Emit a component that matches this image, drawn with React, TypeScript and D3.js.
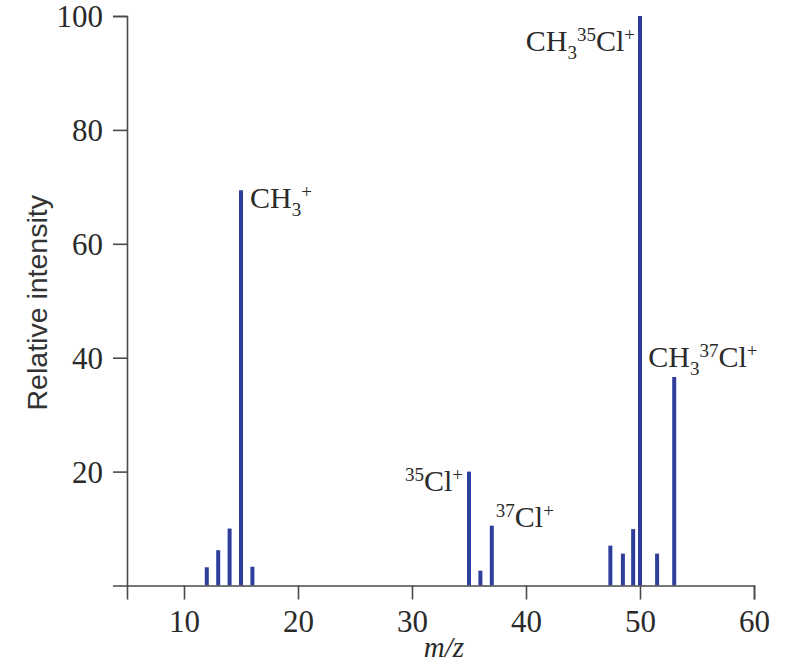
import React, { useEffect, useRef } from 'react';
import * as d3 from 'd3';

// peaks
const mzValues = [12, 13, 14, 15, 16, 35, 36, 37, 47.4, 48.5, 49.4, 50, 51.5, 53];
const intensities = [3.2, 6.2, 10, 69.4, 3.3, 20, 2.6, 10.5, 7.0, 5.6, 9.9, 100, 5.6, 36.6];

const xTicks = [10, 20, 30, 40, 50, 60];
const yTicks = [20, 40, 60, 80, 100];

// ion labels: [text, kind] parts, kind: n = normal, sub, sup
type Part = [string, 'n' | 'sub' | 'sup'];
const labelParts: Part[][] = [
  [['CH', 'n'], ['3', 'sub'], ['+', 'sup']],
  [['35', 'sup'], ['Cl', 'n'], ['+', 'sup']],
  [['37', 'sup'], ['Cl', 'n'], ['+', 'sup']],
  [['CH', 'n'], ['3', 'sub'], ['35', 'sup'], ['Cl', 'n'], ['+', 'sup']],
  [['CH', 'n'], ['3', 'sub'], ['37', 'sup'], ['Cl', 'n'], ['+', 'sup']],
];
const labelMz = [15, 35, 37, 50, 53];

const W = 795;
const H = 663;
const BLUE = '#2f3e9a';
const INK = '#2a2a2a';
const SERIF = '"Liberation Serif", "Times New Roman", serif';
const LABEL_SIZE = 30;
const SMALL_SIZE = 19;

const App: React.FC = () => {
  const svgRef = useRef<SVGSVGElement>(null);

  useEffect(() => {
    if (!svgRef.current) return;
    const svg = d3.select(svgRef.current);
    svg.selectAll('*').remove();

    const x = d3.scaleLinear().domain([5, 60]).range([127, 754]);
    const y = d3.scaleLinear().domain([0, 100]).range([585.5, 16]);

    // bars
    svg.append('g')
      .selectAll('line')
      .data(mzValues)
      .join('line')
      .attr('x1', d => x(d))
      .attr('x2', d => x(d))
      .attr('y1', y(0))
      .attr('y2', (_, i) => y(intensities[i]))
      .attr('stroke', BLUE)
      .attr('stroke-width', 4);

    // axes
    const xAxis = svg.append('g')
      .attr('transform', `translate(0,${y(0)})`)
      .call(d3.axisBottom(x).tickValues(xTicks).tickSizeOuter(0).tickSize(14).tickPadding(10));
    const yAxis = svg.append('g')
      .attr('transform', `translate(${x(5)},0)`)
      .call(d3.axisLeft(y).tickValues(yTicks).tickSizeOuter(0).tickSize(14).tickPadding(10));

    [xAxis, yAxis].forEach(g => {
      g.selectAll('path, line').attr('stroke', '#4a4a4a').attr('stroke-width', 1.6);
      g.selectAll('text')
        .attr('font-family', SERIF)
        .attr('font-size', 31)
        .attr('fill', INK);
    });
    yAxis.selectAll('text').attr('dy', '0.34em');

    // axis titles
    svg.append('text')
      .attr('transform', `translate(47,${y(50) + 2}) rotate(-90)`)
      .attr('text-anchor', 'middle')
      .attr('font-family', '"Liberation Sans", Arial, sans-serif')
      .attr('font-size', 28.5)
      .attr('fill', '#333')
      .text('Relative intensity');

    svg.append('text')
      .attr('x', 444)
      .attr('y', 657)
      .attr('text-anchor', 'middle')
      .attr('font-family', SERIF)
      .attr('font-style', 'italic')
      .attr('font-size', 29)
      .attr('fill', INK)
      .text('m/z');

    // ion labels
    const peakOf = (mz: number) => intensities[mzValues.indexOf(mz)];
    const anchors: { dx: number; dy: number; anchor: string }[] = [
      { dx: 9, dy: 18, anchor: 'start' },
      { dx: -6, dy: 19, anchor: 'end' },
      { dx: 4, dy: 1, anchor: 'start' },
      { dx: -5, dy: 35, anchor: 'end' },
      { dx: -26, dy: -10, anchor: 'start' },
    ];

    labelParts.forEach((parts, i) => {
      const mz = labelMz[i];
      const a = anchors[i];
      const t = svg.append('text')
        .attr('x', x(mz) + a.dx)
        .attr('y', y(peakOf(mz)) + a.dy)
        .attr('text-anchor', a.anchor)
        .attr('font-family', SERIF)
        .attr('font-size', LABEL_SIZE)
        .attr('fill', INK);
      let shift = 0;
      parts.forEach(([txt, kind]) => {
        const target = kind === 'sub' ? 8 : kind === 'sup' ? -10 : 0;
        t.append('tspan')
          .attr('dy', target - shift)
          .attr('font-size', kind === 'n' ? LABEL_SIZE : SMALL_SIZE)
          .text(txt);
        shift = target;
      });
    });
  }, []);

  return (
    <svg
      ref={svgRef}
      width={W}
      height={H}
      style={{ position: 'absolute', left: 0, top: 0, background: '#fff' }}
    />
  );
};

export default App;
